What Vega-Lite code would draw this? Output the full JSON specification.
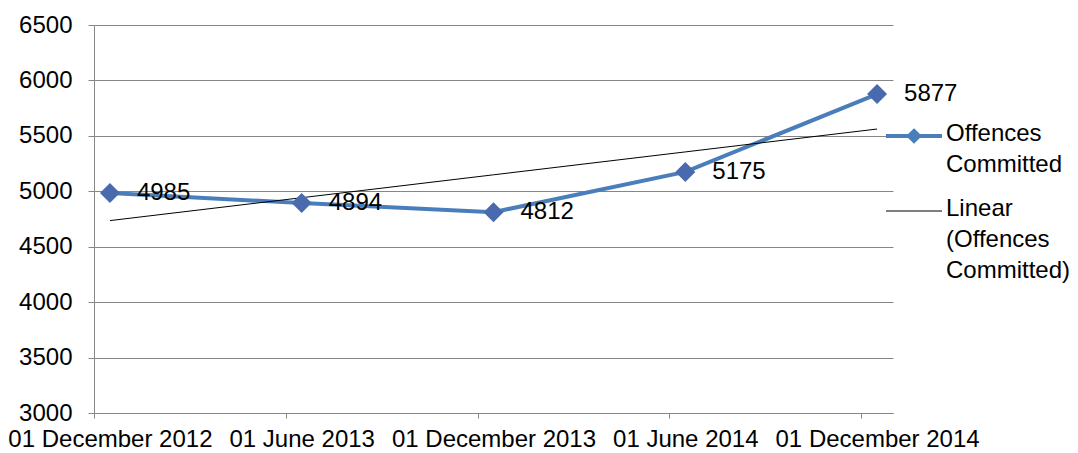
{
  "$schema": "https://vega.github.io/schema/vega-lite/v6.json",
  "width": 799,
  "height": 388,
  "autosize": {"type": "none"},
  "padding": {"left": 94, "top": 25, "right": 185, "bottom": 40},
  "background": "white",
  "config": {
    "view": {"stroke": null},
    "font": "Liberation Sans",
    "axis": {"labelFont": "Liberation Sans", "labelFontSize": 24, "labelColor": "#000", "domainColor": "#868686", "tickColor": "#868686", "gridColor": "#868686", "gridWidth": 1, "title": null}
  },
  "data": {
    "values": [
      {"date": "01 December 2012", "value": 4985, "trend": 4735.6},
      {"date": "01 June 2013", "value": 4894, "trend": 4942.1},
      {"date": "01 December 2013", "value": 4812, "trend": 5148.6},
      {"date": "01 June 2014", "value": 5175, "trend": 5355.1},
      {"date": "01 December 2014", "value": 5877, "trend": 5561.6}
    ]
  },
  "encoding": {
    "x": {
      "field": "date",
      "type": "ordinal",
      "sort": null,
      "scale": {"type": "point", "padding": 0.083},
      "axis": {"labelAngle": 0, "labelOverlap": false, "labelLimit": 400, "labelFlush": false, "tickOffset": -16, "labelOffset": 16, "tickSize": 5, "labelPadding": 9, "grid": false, "labelBaseline": "top"}
    }
  },
  "layer": [
    {
      "mark": {"type": "line", "strokeWidth": 4},
      "encoding": {
        "y": {"field": "value", "type": "quantitative", "scale": {"domain": [3000, 6500], "nice": false, "zero": false},
          "axis": {"values": [3000, 3500, 4000, 4500, 5000, 5500, 6000, 6500], "format": "d", "grid": true, "tickSize": 6, "labelPadding": 16}},
        "color": {"datum": "Offences Committed", "type": "nominal",
          "scale": {"domain": ["Offences Committed", "Linear (Offences Committed)"], "range": ["#4a7ebb", "#000000"]},
          "legend": {
            "title": null,
            "orient": "none",
            "legendX": 808,
            "legendY": 99,
            "padding": 0,
            "labelFont": "Liberation Sans",
            "labelFontSize": 24,
            "labelColor": "#000",
            "labelOffset": 20,
            "labelLimit": 300,
            "labelBaseline": "top",
            "rowPadding": 20,
            "labelExpr": "datum.label == 'Offences Committed' ? ['Offences', 'Committed'] : ['Linear', '(Offences', 'Committed)']",
            "encode": {
              "symbols": {"update": {
                "size": {"value": 3136},
                "shape": {"signal": "datum.value === 'Offences Committed' ? 'M-1,0H1M0,-0.18L0.18,0L0,0.18L-0.18,0Z' : 'M-1,0H1'"},
                "strokeWidth": {"signal": "datum.value === 'Offences Committed' ? 4 : 1"},
                "stroke": {"signal": "datum.value === 'Offences Committed' ? '#4a7ebb' : '#000000'"},
                "fill": {"signal": "datum.value === 'Offences Committed' ? '#4a6aae' : 'transparent'"},
                "opacity": {"value": 1}
              }},
              "labels": {"update": {"lineHeight": {"value": 31}, "dy": {"value": -14}}}
            }
          }
        }
      }
    },
    {
      "mark": {"type": "line", "strokeWidth": 1},
      "encoding": {
        "y": {"field": "trend", "type": "quantitative"},
        "color": {"datum": "Linear (Offences Committed)", "type": "nominal"}
      }
    },
    {
      "mark": {"type": "point", "shape": "diamond", "filled": true, "size": 400, "color": "#4a6aae", "opacity": 1},
      "encoding": {"y": {"field": "value", "type": "quantitative"}}
    },
    {
      "mark": {"type": "text", "align": "left", "baseline": "middle", "dx": 27, "fontSize": 24, "font": "Liberation Sans", "color": "#000"},
      "encoding": {"y": {"field": "value", "type": "quantitative"}, "text": {"field": "value", "type": "quantitative"}}
    }
  ]
}
